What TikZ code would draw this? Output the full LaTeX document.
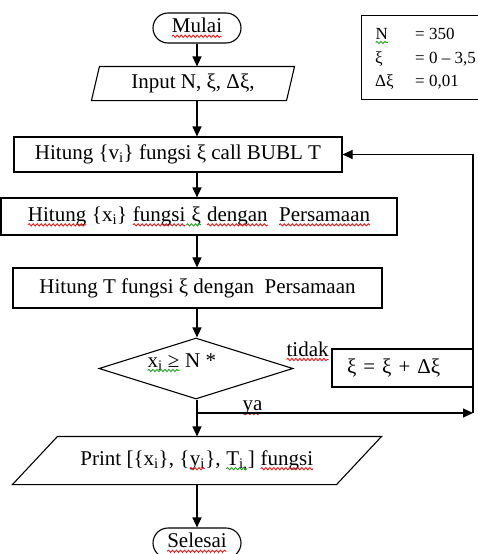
\documentclass[tikz,border=0pt]{standalone}
\usepackage{fontspec}
\setmainfont{Liberation Serif}
\usetikzlibrary{arrows.meta,shapes.geometric,shapes.misc,decorations.pathmorphing}

\definecolor{spellred}{RGB}{225,25,25}
\definecolor{spellgreen}{RGB}{40,160,40}

% wavy underline under a piece of text
\newcommand\sq[2]{\tikz[baseline=(sqw.base)]{%
  \node[shape=rectangle,draw=none,fill=none,inner sep=0pt,outer sep=0pt,
        minimum width=0pt,minimum height=0pt,anchor=base] (sqw) {#2};%
  \draw[draw=#1,line width=.9pt,decorate,
        decoration={snake,amplitude=1.1pt,segment length=4pt}]
       ([yshift=-3.5pt]sqw.base west) -- ([yshift=-3.5pt]sqw.base east);}}

% slanted outline around a rectangular node
\newcommand\slantframe[2]{%
  \draw[line width=1.1pt] ([xshift=#2pt]#1.north west) -- ([xshift=#2pt]#1.north east)
    -- ([xshift=-#2pt]#1.south east) -- ([xshift=-#2pt]#1.south west) -- cycle;}

\tikzset{
  base/.style={line width=1.1pt, font=\fontsize{21}{25}\selectfont, inner sep=0pt},
  term/.style={base, draw, rounded rectangle, minimum width=88pt, minimum height=30pt},
  io/.style={base, draw=none, rectangle},
  proc/.style={base, draw, rectangle},
  cond/.style={base, draw, diamond, minimum width=194pt, minimum height=61pt},
  arr/.style={line width=1.1pt, -{Triangle[length=10pt,width=9pt]}},
  lbl/.style={font=\fontsize{21}{25}\selectfont, inner sep=0pt, anchor=base west},
  infotext/.style={font=\fontsize{17}{20}\selectfont, inner sep=0pt, anchor=base west},
}

\begin{document}
\begin{tikzpicture}[x=1pt,y=-1pt]
\useasboundingbox (0,0) rectangle (478,554);
\clip (0,0) rectangle (478,554);

% main column
\coordinate (col) at (197,0);

\node[term] (start) at (197,28) {\sq{spellred}{Mulai}};

\node[io, minimum width=194pt, minimum height=33pt] (in) at (193,83.5) {Input N, ξ, Δξ,};
\slantframe{in}{4}

\node[proc, minimum width=328pt, minimum height=35pt] (b1) at (178,154.5)
  {Hitung \{v\textsubscript{i}\} fungsi ξ call BUBL T};

\node[proc, minimum width=396pt, minimum height=37pt] (b2) at (199,216.5)
  {\sq{spellred}{Hitung} \{x\textsubscript{i}\} \sq{spellred}{fungsi}\sq{spellgreen}{\ ξ} \sq{spellred}{dengan}\ \ \sq{spellred}{Persamaan}};

\node[proc, minimum width=369pt, minimum height=40pt] (b3) at (197.5,288)
  {Hitung T fungsi ξ dengan\ \ Persamaan};

\node[cond] (dec) at (196,368.5) {};
\node[lbl] (dectext) at (147,367) {\sq{spellgreen}{x\textsubscript{i} ≥} N *};

\node[proc, minimum width=141pt, minimum height=38pt, inner xsep=15pt,
      text width=111pt, align=left] (upd) at (402.5,368) {ξ = ξ + Δξ};

\node[lbl] (no) at (286,356) {\sq{spellred}{tidak}};
\node[lbl] (yes) at (242,410) {\sq{spellred}{ya}};

\node[io, minimum width=323pt, minimum height=47pt] (out) at (197,460.5)
  {Print [\{x\textsubscript{i}\}, \{\sq{spellred}{y\textsubscript{i}}\}, \sq{spellgreen}{T\textsubscript{i,}}] \sq{spellred}{fungsi}};
\slantframe{out}{22.5}

\node[term] (stop) at (197,543) {\sq{spellred}{Selesai}};

% parameter box
\node[draw, line width=1.1pt, minimum width=130pt, minimum height=84pt,
      inner sep=0pt, anchor=north west] (info) at (361,15) {};
\node[infotext] (info1) at (375,39) {\makebox[40pt][l]{\sq{spellgreen}{N\hspace{12pt}}}= 350};
\node[infotext] (info2) at (375,63) {\makebox[40pt][l]{ξ}= 0 – 3,5};
\node[infotext] (info3) at (375,86) {\makebox[40pt][l]{Δξ}= 0,01};

% flow
\coordinate (yaL) at (197,413);
\coordinate (yaR) at (473,413);

\draw[arr] (start.south) -- (start.south |- in.north);
\draw[arr] (in.south -| col) -- (b1.north -| col);
\draw[arr] (b1.south -| col) -- (b2.north -| col);
\draw[arr] (b2.south -| col) -- (b3.north -| col);
\draw[arr] (b3.south -| col) -- (dec.north -| col);
\draw[arr] (dec.south -| col) -- (out.north -| col);
\draw[arr] (yaL) -- (yaR);
\draw[arr] (yaR) -- (yaR |- b1.east) -- (b1.east);
\draw[arr] (out.south -| col) -- (stop.north);
\end{tikzpicture}
\end{document}
